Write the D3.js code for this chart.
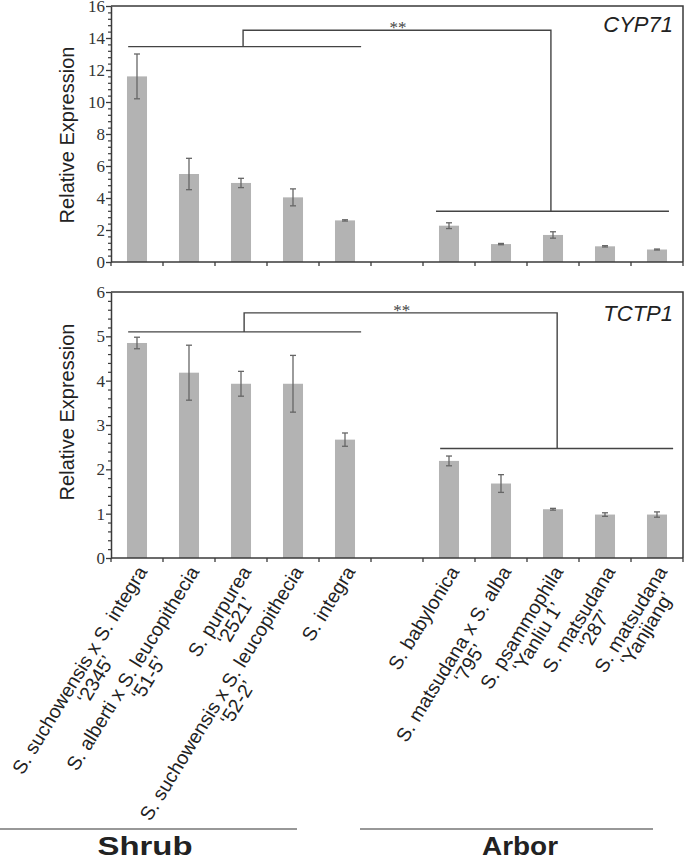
<!DOCTYPE html>
<html><head><meta charset="utf-8">
<script src="https://cdn.jsdelivr.net/npm/d3@7/dist/d3.min.js"></script>
<style>
body{margin:0;background:#fff;}
svg{display:block;}
</style></head>
<body>
<svg id="chart" width="685" height="857"></svg>
<script>
// ---------- data ----------
const categories = [
  ["S. suchowensis x S. integra", "\u20182345\u2019"],
  ["S. alberti x S. leucopithecia", "\u201851-5\u2019"],
  ["S. purpurea", "\u20182521\u2019"],
  ["S. suchowensis x S. leucopithecia", "\u201852-2\u2019"],
  ["S. integra"],
  [],
  ["S. babylonica"],
  ["S. matsudana x S. alba", "\u2018795\u2019"],
  ["S. psammophila", "\u2018Yanliu 1\u2019"],
  ["S. matsudana", "\u2018287\u2019"],
  ["S. matsudana", "\u2018Yanjiang\u2019"]
];
const cypValues = [11.6, 5.5, 4.94, 4.04, 2.6, null, 2.27, 1.12, 1.69, 0.98, 0.78];
const cypErrors = [1.4, 0.98, 0.29, 0.53, 0.04, null, 0.18, 0.04, 0.2, 0.04, 0.03];
const tctValues = [4.85, 4.18, 3.93, 3.93, 2.67, null, 2.19, 1.68, 1.1, 0.98, 0.98];
const tctErrors = [0.13, 0.62, 0.28, 0.64, 0.15, null, 0.11, 0.2, 0.02, 0.04, 0.06];
const cypTicks = [0, 2, 4, 6, 8, 10, 12, 14, 16];
const tctTicks = [0, 1, 2, 3, 4, 5, 6];
const genes = ["CYP71", "TCTP1"];
const groups = ["Shrub", "Arbor"];
// significance brackets: levels in data units, x positions in slot units
const cypBracket = {shrubY: 13.46, topY: 14.48, arborY: 3.17, sx0: 0.33, sx1: 4.81, sMid: 2.54, ax0: 6.25, ax1: 10.73, aMid: 8.46};
const tctBracket = {shrubY: 5.1, topY: 5.53, arborY: 2.47, sx0: 0.33, sx1: 4.81, sMid: 2.56, ax0: 6.33, ax1: 10.81, aMid: 8.58};
const sigLabel = "**";

// ---------- layout ----------
const svg = d3.select("#chart");
const left = 111, right = 683;
const x = d3.scaleBand().domain(d3.range(categories.length)).range([left, right])
  .paddingInner(0.615).paddingOuter(0.3075);
const step = x.step();
const slotX = s => left + s * step;

const axisColor = "#3a3a3a";
const barColor = "#b3b3b3";
const errColor = "#666";
const serif = "'Liberation Serif','Times New Roman',serif";
const sans = "'Liberation Sans',Arial,sans-serif";

function panel(cfg) {
  const y = d3.scaleLinear().domain([0, cfg.max]).range([cfg.bottom, cfg.top]);
  const g = svg.append("g");

  // bars
  const idx = d3.range(categories.length).filter(i => cfg.values[i] != null);
  g.selectAll("rect.bar").data(idx).join("rect")
    .attr("x", i => x(i)).attr("width", x.bandwidth())
    .attr("y", i => y(cfg.values[i]))
    .attr("height", i => y(0) - y(cfg.values[i]))
    .attr("fill", barColor);

  // error bars
  const cap = 3;
  const eg = g.selectAll("g.err").data(idx).join("g").attr("stroke", errColor).attr("stroke-width", 1.3);
  const cxf = i => x(i) + x.bandwidth() / 2;
  eg.append("line")
    .attr("x1", cxf).attr("x2", cxf)
    .attr("y1", i => y(cfg.values[i] + cfg.errors[i])).attr("y2", i => y(cfg.values[i] - cfg.errors[i]));
  eg.append("line")
    .attr("x1", i => cxf(i) - cap).attr("x2", i => cxf(i) + cap)
    .attr("y1", i => y(cfg.values[i] + cfg.errors[i])).attr("y2", i => y(cfg.values[i] + cfg.errors[i]));
  eg.append("line")
    .attr("x1", i => cxf(i) - cap).attr("x2", i => cxf(i) + cap)
    .attr("y1", i => y(cfg.values[i] - cfg.errors[i])).attr("y2", i => y(cfg.values[i] - cfg.errors[i]));

  // box top/right
  g.append("path")
    .attr("d", `M${left},${cfg.top}H${right}V${cfg.bottom}`)
    .attr("fill", "none").attr("stroke", axisColor).attr("stroke-width", 1.5);

  // minor ticks
  const majorStep = cfg.ticks[1] - cfg.ticks[0];
  const minor = [];
  for (let k = 0; k < cfg.ticks.length - 1; k++)
    for (let m = 1; m < 5; m++) minor.push(cfg.ticks[k] + majorStep * m / 5);
  const minAx = g.append("g").attr("transform", `translate(${left},0)`)
    .call(d3.axisLeft(y).tickValues(minor).tickSize(3).tickFormat(""));
  minAx.select(".domain").remove();
  minAx.selectAll("line").attr("stroke", axisColor).attr("stroke-width", 1.2);

  // y axis
  const yAx = g.append("g").attr("transform", `translate(${left},0)`)
    .call(d3.axisLeft(y).tickValues(cfg.ticks).tickFormat(d3.format("d"))
      .tickSize(5).tickSizeOuter(0).tickPadding(1));
  yAx.select(".domain").attr("stroke", axisColor).attr("stroke-width", 1.5);
  yAx.selectAll("line").attr("stroke", axisColor).attr("stroke-width", 1.3);
  yAx.selectAll("text").attr("font-family", serif).attr("font-size", 17).attr("fill", "#333");

  // x axis (ticks at slot boundaries)
  const xb = d3.range(categories.length + 1).map(k => slotX(k));
  const xAx = g.append("g").attr("transform", `translate(0,${cfg.bottom})`);
  xAx.append("line").attr("x1", left).attr("x2", right).attr("stroke", axisColor).attr("stroke-width", 1.5);
  xAx.selectAll("line.t").data(xb).join("line")
    .attr("x1", d => d).attr("x2", d => d).attr("y1", 0).attr("y2", 4)
    .attr("stroke", axisColor).attr("stroke-width", 1.3);

  // y title
  g.append("text")
    .attr("transform", `translate(74,${cfg.titleY}) rotate(-90)`)
    .attr("text-anchor", "middle").attr("font-family", sans).attr("font-size", 20).attr("fill", "#222")
    .text("Relative Expression");

  // gene label
  g.append("text").attr("x", 673).attr("y", cfg.geneY)
    .attr("text-anchor", "end").attr("font-family", sans).attr("font-style", "italic")
    .attr("font-size", 22).attr("fill", "#222").text(cfg.gene);

  // brackets
  const b = cfg.bracket;
  const bg = g.append("g").attr("fill", "none").attr("stroke", "#444").attr("stroke-width", 1.4);
  bg.append("line").attr("x1", slotX(b.sx0)).attr("x2", slotX(b.sx1)).attr("y1", y(b.shrubY)).attr("y2", y(b.shrubY));
  bg.append("line").attr("x1", slotX(b.ax0)).attr("x2", slotX(b.ax1)).attr("y1", y(b.arborY)).attr("y2", y(b.arborY));
  bg.append("path").attr("d", `M${slotX(b.sMid)},${y(b.shrubY)}V${y(b.topY)}H${slotX(b.aMid)}V${y(b.arborY)}`);
  g.append("text").attr("x", (slotX(b.sMid) + slotX(b.aMid)) / 2 + 1).attr("y", y(b.topY) + 3)
    .attr("text-anchor", "middle").attr("font-family", serif).attr("font-size", 17)
    .attr("fill", "#444").style("fill", "#444")
    .text(sigLabel);
  return y;
}

panel({max: 16, top: 6, bottom: 262, values: cypValues, errors: cypErrors, ticks: cypTicks,
  titleY: 135, gene: genes[0], geneY: 32, bracket: cypBracket});
panel({max: 6, top: 292, bottom: 558, values: tctValues, errors: tctErrors, ticks: tctTicks,
  titleY: 412, gene: genes[1], geneY: 321, bracket: tctBracket});

// category labels
const angle = -58.5;
const fs = 19.5;
categories.forEach((lines, i) => {
  if (!lines.length) return;
  const cx = x(i) + x.bandwidth() / 2;
  const lg = svg.append("g").attr("transform", `translate(${cx + 5},568) rotate(${angle})`)
    .attr("font-family", sans).attr("font-size", fs).attr("fill", "#222");
  const t1 = lg.append("text").attr("text-anchor", "end").attr("dy", "0.35em").text(lines[0]);
  const len = t1.node().getComputedTextLength();
  if (lines[1]) {
    lg.append("text").attr("text-anchor", "middle").attr("x", -len / 2).attr("y", fs * 0.95)
      .attr("dy", "0.35em").text(lines[1]);
  }
});

// group labels
const groupSpans = [[0, 297, 145, 95], [360, 653, 520, 76]];
groups.forEach((name, k) => {
  const [a, bx, c, w] = groupSpans[k];
  svg.append("line").attr("x1", a).attr("x2", bx).attr("y1", 829).attr("y2", 829)
    .attr("stroke", "#333").attr("stroke-width", 1.2);
  svg.append("text").attr("x", c).attr("y", 855).attr("text-anchor", "middle")
    .attr("font-family", sans).attr("font-weight", "bold").attr("font-size", 25).attr("fill", "#222")
    .attr("textLength", w).attr("lengthAdjust", "spacingAndGlyphs")
    .text(name);
});
</script>
</body></html>
